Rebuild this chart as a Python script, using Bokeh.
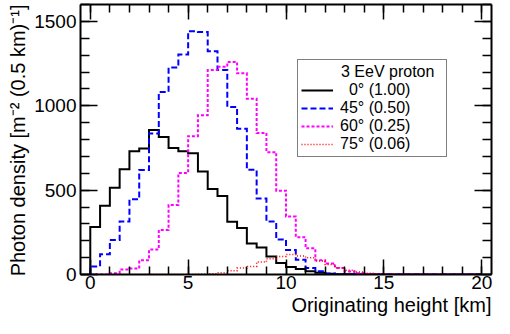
import numpy as np
from bokeh.plotting import figure
from bokeh.models import (Range1d, LinearAxis, SingleIntervalTicker, Legend, LegendItem,
                          Title, CustomJSTickFormatter)
from bokeh.embed import file_html
from bokeh.resources import INLINE

# ---- data: photon density per 0.5 km bin of originating height (0 .. 20 km) ----
bin_edges_km = [i * 0.5 for i in range(41)]

counts_0deg = [281, 407, 514, 624, 731, 747, 857, 815, 750, 731,
               718, 611, 506, 465, 312, 275, 184, 160, 107, 68,
               45, 32, 19, 10, 4, 2, 1, 0, 0, 0,
               0, 0, 0, 0, 0, 0, 0, 0, 0, 0]
counts_45deg = [48, 120, 204, 314, 446, 619, 836, 1082, 1227, 1303,
                1442, 1437, 1323, 1212, 993, 863, 621, 450, 314, 208,
                145, 87, 39, 19, 6, 2, 0, 0, 0, 0,
                0, 0, 0, 0, 0, 0, 0, 0, 0, 0]
counts_60deg = [0, 0, 8, 29, 35, 85, 148, 264, 412, 601,
                820, 944, 1212, 1231, 1260, 1193, 1042, 838, 725, 497,
                344, 221, 155, 85, 65, 38, 18, 8, 3, 1,
                0, 0, 0, 0, 0, 0, 0, 0, 0, 0]
counts_75deg = [0, 0, 0, 0, 0, 0, 0, 0, 0, 0,
                0, 2, 5, 10, 22, 38, 48, 74, 93, 107,
                118, 110, 99, 80, 60, 40, 25, 15, 7, 3,
                1, 0, 0, 0, 0, 0, 0, 0, 0, 0]

series_labels = ["\u00a0\u00a00\u00b0 (1.00)", "45\u00b0 (0.50)", "60\u00b0 (0.25)", "75\u00b0 (0.06)"]
legend_title = "3 EeV proton"
x_label = "Originating height [km]"
y_label = "Photon density [m\u207b\u00b2 (0.5 km)\u207b\u00b9]"

FONT = "Liberation Sans"
X_MIN, X_MAX = -0.5, 20.5
Y_MIN, Y_MAX = 0, 1600

p = figure(width=494, height=318, output_backend="svg", toolbar_location=None,
           x_range=Range1d(X_MIN, X_MAX), y_range=Range1d(Y_MIN, Y_MAX),
           x_axis_type=None, y_axis_type=None,
           min_border_left=80, min_border_right=3, min_border_top=4, min_border_bottom=44)
p.outline_line_color = None
p.background_fill_color = "white"
p.border_fill_color = "white"


def make_axis(is_x, with_labels):
    if is_x:
        ticker = SingleIntervalTicker(interval=5, num_minor_ticks=5)
    else:
        ticker = SingleIntervalTicker(interval=500, num_minor_ticks=5)
    ax = LinearAxis(ticker=ticker)
    ax.axis_line_color = "black"
    ax.axis_line_width = 2
    ax.major_tick_in = 15 if is_x else 17
    ax.major_tick_out = 0
    ax.minor_tick_in = 8 if is_x else 9
    ax.minor_tick_out = 0
    ax.major_tick_line_width = 1.5
    ax.minor_tick_line_width = 1.5
    ax.major_tick_line_color = "black"
    ax.minor_tick_line_color = "black"
    if with_labels:
        ax.major_label_text_font = FONT
        ax.major_label_text_font_size = "19px"
        ax.major_label_text_color = "black"
        ax.major_label_standoff = 1 if is_x else 4
    else:
        ax.formatter = CustomJSTickFormatter(code="return ''")
        ax.major_label_text_font_size = "1px"
        ax.major_label_standoff = 0
    return ax


p.add_layout(make_axis(True, True), "below")
p.add_layout(make_axis(False, True), "left")
p.add_layout(make_axis(True, False), "above")
p.add_layout(make_axis(False, False), "right")

# axis titles, aligned to the far ends of the axes as in the reference
p.add_layout(Title(text=x_label, align="right", standoff=0, offset=0,
                   text_font=FONT, text_font_size="20px", text_font_style="normal",
                   text_color="black"), "below")
p.add_layout(Title(text=y_label, align="right", standoff=6, offset=0,
                   text_font=FONT, text_font_size="20px", text_font_style="normal",
                   text_color="black"), "left")


def step_path(counts):
    xs = np.repeat(np.array(bin_edges_km), 2)
    ys = np.concatenate([[0], np.repeat(np.array(counts, dtype=float), 2), [0]])
    return xs, ys


styles = [
    dict(line_color="black", line_width=2, line_dash="solid"),
    dict(line_color="#0000ff", line_width=2, line_dash="6 3"),
    dict(line_color="#ff00ff", line_width=2, line_dash="3 2"),
    dict(line_color="#ff0000", line_width=1.5, line_dash="1 2"),
]
renderers = []
for counts, st in zip([counts_0deg, counts_45deg, counts_60deg, counts_75deg], styles):
    xs, ys = step_path(counts)
    r = p.line(xs, ys, line_join="miter", **st)
    renderers.append(r)

items = [LegendItem(label=lab, renderers=[r]) for lab, r in zip(series_labels, renderers)]
legend = Legend(items=items, location=(217, 117))
legend.title = "\u00a0" * 9 + legend_title
legend.title_text_font = FONT
legend.title_text_font_size = "16px"
legend.title_text_font_style = "normal"
legend.title_text_color = "black"
legend.title_standoff = 0
legend.label_text_font = FONT
legend.label_text_font_size = "16px"
legend.label_text_color = "black"
legend.glyph_width = 32
legend.glyph_height = 18
legend.label_height = 18
legend.label_width = 103
legend.label_standoff = 7
legend.spacing = 0
legend.padding = 3
legend.margin = 0
legend.border_line_color = "black"
legend.border_line_width = 1.2
legend.background_fill_color = "white"
legend.background_fill_alpha = 1.0
p.add_layout(legend)

html = file_html(p, INLINE, title="Photon density vs originating height")
open("out.html", "w").write(html)
